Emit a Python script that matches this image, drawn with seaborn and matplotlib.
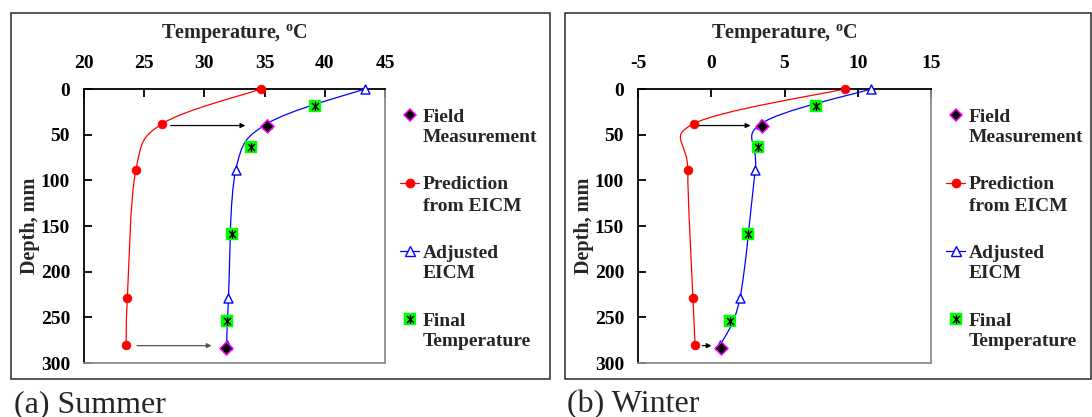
import numpy as np
import pandas as pd
import matplotlib
matplotlib.use("Agg")
import matplotlib.pyplot as plt
import seaborn as sns
from matplotlib.path import Path
from matplotlib.patches import PathPatch, Rectangle
from matplotlib.lines import Line2D
from matplotlib.markers import MarkerStyle

# ---- data -------------------------------------------------------------
eicm_depth = [0, 38, 89, 229, 280]        # mm
field_depth = [40, 284]                   # mm
final_depth = [19, 64, 159, 254]          # mm

summer_pred = [34.7, 26.5, 24.3, 23.6, 23.5]
summer_adj = [43.3, 35.2, 32.6, 32.0, 31.85]
summer_field = [35.2, 31.8]
summer_final = [39.2, 33.85, 32.3, 31.9]
summer_arrows = [(27.2, 33.4, 40), (24.4, 30.6, 281)]   # (from, to, depth)

winter_pred = [9.1, -1.2, -1.6, -1.25, -1.1]
winter_adj = [10.9, 3.4, 3.0, 1.96, 0.63]
winter_field = [3.45, 0.65]
winter_final = [7.15, 3.17, 2.48, 1.3]
winter_arrows = [(-0.84, 2.68, 40), (-0.6, 0.02, 281)]

summer_xticks = [20, 25, 30, 35, 40, 45]
winter_xticks = [-5, 0, 5, 10, 15]
depth_ticks = [0, 50, 100, 150, 200, 250, 300]

legend_labels = ["Field\nMeasurement", "Prediction\nfrom EICM",
                 "Adjusted\nEICM", "Final\nTemperature"]
panel_captions = ["(a) Summer", "(b) Winter"]
x_title = r"Temperature, $^{\mathbf{o}}$C"
y_title = "Depth, mm"

# ---- style ------------------------------------------------------------
sns.set_theme(style="white")
plt.rcParams["font.family"] = ["Liberation Serif", "DejaVu Serif"]
plt.rcParams["mathtext.fontset"] = "custom"
plt.rcParams["mathtext.rm"] = "Liberation Serif"
plt.rcParams["mathtext.bf"] = "Liberation Serif:bold"
plt.rcParams["axes.unicode_minus"] = False

W, H = 1092, 417
fig = plt.figure(figsize=(W / 100, H / 100), dpi=100)


def fx(px):
    return px / W


def fy(py):
    return 1 - py / H


RED, BLUE, GREEN, MAG = "#FF0000", "#0000FF", "#00FF00", "#FF00FF"

star_path = Path([(-1, -1), (1, 1), (-1, 1), (1, -1), (0, -1.25), (0, 1.25)],
                 [Path.MOVETO, Path.LINETO, Path.MOVETO, Path.LINETO,
                  Path.MOVETO, Path.LINETO])
star_marker = MarkerStyle(star_path)


def smooth_path(x, y):
    """Cubic Bezier path through the points (Catmull-Rom style smoothing)."""
    pts = np.column_stack([x, y]).astype(float)
    n = len(pts)
    verts, codes = [pts[0]], [Path.MOVETO]
    for i in range(n - 1):
        p0 = pts[i - 1] if i > 0 else pts[i]
        p1, p2 = pts[i], pts[i + 1]
        p3 = pts[i + 2] if i + 2 < n else pts[i + 1]
        verts += [p1 + (p2 - p0) / 6, p2 - (p3 - p1) / 6, p2]
        codes += [Path.CURVE4] * 3
    return Path(verts, codes)


def draw_panel(rect, pred, adj, field, final, arrows, xticks):
    ax = fig.add_axes(rect)
    pred_df = pd.DataFrame({"T": pred, "depth": eicm_depth})
    adj_df = pd.DataFrame({"T": adj, "depth": eicm_depth})
    field_df = pd.DataFrame({"T": field, "depth": field_depth})
    final_df = pd.DataFrame({"T": final, "depth": final_depth})

    ax.add_patch(PathPatch(smooth_path(pred, eicm_depth), fill=False,
                           edgecolor=RED, lw=0.9, zorder=2))
    ax.add_patch(PathPatch(smooth_path(adj, eicm_depth), fill=False,
                           edgecolor=BLUE, lw=0.9, zorder=2))

    sns.scatterplot(data=pred_df, x="T", y="depth", ax=ax, marker="o", s=40,
                    color=RED, edgecolor=RED, linewidth=0.5, zorder=3,
                    clip_on=False)
    sns.scatterplot(data=adj_df, x="T", y="depth", ax=ax, marker="^", s=42,
                    facecolor="white", edgecolor=BLUE, linewidth=1.0, zorder=3,
                    clip_on=False)
    sns.scatterplot(data=final_df, x="T", y="depth", ax=ax, marker="s", s=78,
                    color=GREEN, edgecolor=GREEN, linewidth=0.3, zorder=4,
                    clip_on=False)
    sns.scatterplot(data=final_df, x="T", y="depth", ax=ax, marker=star_marker,
                    s=40, color="black", edgecolor="black", linewidth=1.0,
                    zorder=5, clip_on=False)
    sns.scatterplot(data=field_df, x="T", y="depth", ax=ax, marker="D", s=44,
                    color="black", edgecolor=MAG, linewidth=1.1, zorder=6,
                    clip_on=False)

    for i, (x0, x1, d) in enumerate(arrows):
        col = "#555555" if (i == 1 and x1 - x0 > 2) else "black"
        ax.annotate("", xy=(x1, d), xytext=(x0, d),
                    arrowprops=dict(arrowstyle="-|>", color=col, lw=0.9,
                                    mutation_scale=7, shrinkA=0, shrinkB=0),
                    zorder=3)

    ax.set_xlim(xticks[0], xticks[-1])
    ax.set_ylim(300, 0)
    ax.set_xticks(xticks)
    ax.set_yticks(depth_ticks)
    ax.xaxis.tick_top()
    ax.xaxis.set_label_position("top")
    ax.tick_params(axis="both", direction="in", length=6, width=1.3,
                   color="black", labelsize=14, labelcolor="black")
    ax.tick_params(axis="x", pad=12.5, top=True, bottom=False)
    ax.tick_params(axis="y", pad=10, left=True, right=False)
    for lab in ax.get_xticklabels() + ax.get_yticklabels():
        lab.set_fontweight("bold")
    ax.set_xlabel(x_title, fontsize=14.5, fontweight="bold", labelpad=11)
    ax.set_ylabel(y_title, fontsize=14.5, fontweight="bold", labelpad=0.5)
    ax.spines["left"].set_color("black")
    ax.spines["top"].set_color("black")
    ax.spines["right"].set_color("#8c8c8c")
    ax.spines["bottom"].set_color("#8c8c8c")
    for s in ax.spines.values():
        s.set_linewidth(1.3)
        s.set_visible(True)
    ax.grid(False)
    return ax


def draw_legend(x_spine):
    """Legend column placed to the right of an axes whose right spine is at x_spine (px)."""
    mx = x_spine + 25
    tx = x_spine + 38
    rows = [115, 183, 251, 319]
    handles = [
        dict(marker="D", ms=6.6, mfc="black", mec=MAG, mew=1.1, ls="none"),
        dict(marker="o", ms=6.5, mfc=RED, mec=RED, mew=0.5, color=RED, ls="-"),
        dict(marker="^", ms=7, mfc="white", mec=BLUE, mew=1.0, color=BLUE, ls="-"),
        dict(marker="s", ms=8.5, mfc=GREEN, mec=GREEN, mew=0.3, ls="none"),
    ]
    for y, h, lab in zip(rows, handles, legend_labels):
        fig.add_artist(Line2D([fx(mx - 10), fx(mx), fx(mx + 9)],
                              [fy(y), fy(y), fy(y)], markevery=[1],
                              transform=fig.transFigure, lw=0.9, **h))
        if h["marker"] == "s":
            fig.add_artist(Line2D([fx(mx)], [fy(y)], transform=fig.transFigure,
                                  marker=star_marker, ms=6.3, mec="black",
                                  mfc="none", mew=1.0, ls="none"))
        first, second = lab.split("\n")
        fig.text(fx(tx), fy(y), first, fontsize=14, fontweight="bold",
                 va="center_baseline", ha="left")
        fig.text(fx(tx), fy(y + 21), second, fontsize=14, fontweight="bold",
                 va="center_baseline", ha="left")


# ---- panels -----------------------------------------------------------
top, bottom = 89, 363
left_rect = [fx(84), fy(bottom), fx(385) - fx(84), fy(top) - fy(bottom)]
right_rect = [fx(638), fy(bottom), fx(931) - fx(638), fy(top) - fy(bottom)]

draw_panel(left_rect, summer_pred, summer_adj, summer_field, summer_final,
           summer_arrows, summer_xticks)
draw_panel(right_rect, winter_pred, winter_adj, winter_field, winter_final,
           winter_arrows, winter_xticks)
draw_legend(385)
draw_legend(931)

# outer boxes around each chart
for x0, x1 in [(10.5, 549.5), (564.5, 1090.5)]:
    fig.add_artist(Rectangle((fx(x0), fy(379)), fx(x1) - fx(x0), fy(12.5) - fy(379),
                             transform=fig.transFigure, fill=False,
                             edgecolor="#2a2a2a", lw=1.1))

fig.text(fx(14), fy(412), panel_captions[0], fontsize=23, va="baseline", ha="left")
fig.text(fx(567), fy(412), panel_captions[1], fontsize=23, va="baseline", ha="left")

fig.savefig("out.png", dpi=100)
